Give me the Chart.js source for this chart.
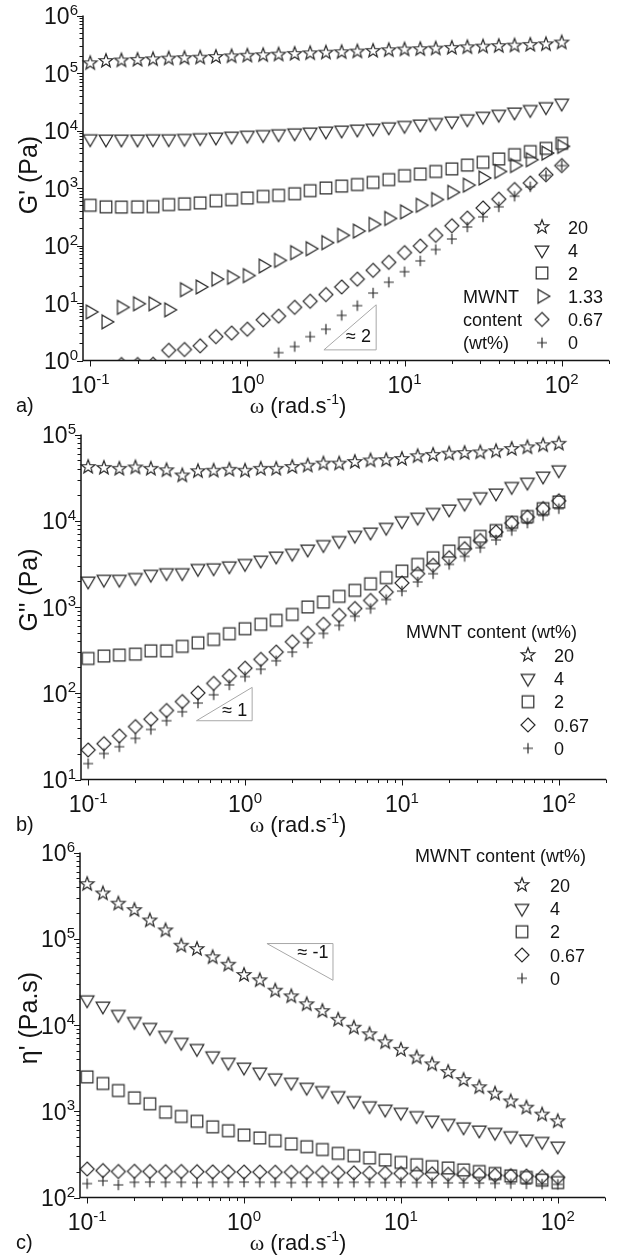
<!DOCTYPE html>
<html>
<head>
<meta charset="utf-8">
<script src="https://cdn.jsdelivr.net/npm/chart.js@4.4.1/dist/chart.umd.min.js"></script>
<style>
  html, body { margin: 0; padding: 0; background: #fff; }
  canvas { display: block; }
</style>
</head>
<body>
<canvas id="panelA" width="627" height="419"></canvas>
<canvas id="panelB" width="627" height="418"></canvas>
<canvas id="panelC" width="627" height="419"></canvas>
<script>
'use strict';

// angular frequency, rad/s (10 points per decade)
const omega = [0.1, 0.126, 0.158, 0.2, 0.251, 0.316, 0.398, 0.501, 0.631, 0.794,
  1, 1.26, 1.58, 2, 2.51, 3.16, 3.98, 5.01, 6.31, 7.94,
  10, 12.6, 15.8, 20, 25.1, 31.6, 39.8, 50.1, 63.1, 79.4, 100];

const contentA = ['20', '4', '2', '1.33', '0.67', '0'];
const contentBC = ['20', '4', '2', '0.67', '0'];
const tickExpX = ['-1', '0', '1', '2'];

// a) storage modulus G' (Pa)
const gp20 = [1.48e5, 1.62e5, 1.65e5, 1.69e5, 1.73e5, 1.78e5, 1.81e5, 1.85e5, 1.9e5, 1.95e5,
  2.0e5, 2.04e5, 2.09e5, 2.15e5, 2.2e5, 2.26e5, 2.3e5, 2.36e5, 2.42e5, 2.49e5,
  2.56e5, 2.6e5, 2.66e5, 2.73e5, 2.8e5, 2.88e5, 2.94e5, 3.0e5, 3.08e5, 3.16e5, 3.39e5];
const gp4 = [7.2e3, 7.1e3, 7.1e3, 7.1e3, 7.2e3, 7.2e3, 7.3e3, 7.5e3, 7.7e3, 8.0e3,
  8.3e3, 8.5e3, 8.8e3, 9.1e3, 9.4e3, 9.8e3, 1.02e4, 1.06e4, 1.1e4, 1.16e4,
  1.23e4, 1.3e4, 1.38e4, 1.47e4, 1.6e4, 1.77e4, 1.92e4, 2.1e4, 2.32e4, 2.6e4, 3.0e4];
const gp2 = [500, 470, 465, 470, 475, 515, 530, 550, 600, 625,
  670, 715, 745, 795, 900, 1000, 1080, 1150, 1250, 1400,
  1640, 1750, 1940, 2150, 2500, 2800, 3200, 3800, 4300, 4900, 6000];
const gp133 = [7.0, 4.7, 8.4, 9.7, 9.7, 7.6, 17, 19, 26, 28,
  30, 44, 55, 75, 88, 112, 150, 178, 233, 295,
  385, 500, 630, 840, 1120, 1490, 1940, 2460, 3100, 4050, 5300];
const gp067 = [null, null, 0.85, 0.85, 0.86, 1.5, 1.55, 1.8, 2.6, 3.0,
  3.5, 5.1, 5.9, 8.4, 10.7, 14, 19, 26, 37, 51,
  75, 98, 150, 220, 300, 450, 640, 940, 1220, 1700, 2450];
const gp0 = [null, null, null, null, null, null, null, null, null, null,
  null, null, 1.37, 1.75, 2.6, 3.5, 6.1, 9.0, 14.9, 23,
  35, 54, 85, 130, 210, 315, 470, 720, 1050, 1650, 2450];

// b) loss modulus G'' (Pa)
const gpp20 = [4.2e4, 4.1e4, 4.0e4, 4.15e4, 4.0e4, 3.85e4, 3.35e4, 3.75e4, 3.8e4, 3.9e4,
  3.8e4, 4.0e4, 4.0e4, 4.2e4, 4.35e4, 4.6e4, 4.6e4, 4.8e4, 5.0e4, 5.05e4,
  5.2e4, 5.6e4, 5.8e4, 6.0e4, 6.1e4, 6.2e4, 6.4e4, 6.8e4, 7.1e4, 7.5e4, 7.8e4];
const gpp4 = [2.0e3, 2.1e3, 2.1e3, 2.2e3, 2.4e3, 2.5e3, 2.5e3, 2.8e3, 2.85e3, 3.0e3,
  3.2e3, 3.5e3, 3.9e3, 4.2e3, 4.7e3, 5.3e3, 5.9e3, 6.8e3, 7.4e3, 8.4e3,
  1.0e4, 1.1e4, 1.25e4, 1.37e4, 1.6e4, 1.9e4, 2.1e4, 2.5e4, 2.8e4, 3.3e4, 3.9e4];
const gpp2 = [253, 270, 277, 284, 310, 310, 350, 385, 420, 490,
  560, 630, 700, 820, 1000, 1140, 1330, 1560, 1860, 2190,
  2610, 3120, 3720, 4450, 5500, 6600, 7700, 9600, 1.12e4, 1.38e4, 1.65e4];
const gpp067 = [22, 26, 32, 41, 50, 63, 80, 101, 130, 158,
  195, 247, 300, 395, 495, 630, 800, 960, 1190, 1490,
  1900, 2430, 3040, 3720, 4740, 5900, 7400, 9400, 1.1e4, 1.38e4, 1.7e4];
const gpp0 = [15.3, 20, 24, 30, 38, 48, 61, 77, 96, 125,
  156, 190, 238, 300, 385, 494, 612, 780, 960, 1220,
  1530, 1950, 2430, 3120, 3860, 4870, 6000, 7700, 9400, 1.15e4, 1.38e4];

// c) dynamic viscosity eta' (Pa.s)
const eta20 = [4.3e5, 3.35e5, 2.55e5, 2.15e5, 1.63e5, 1.25e5, 8.3e4, 7.6e4, 6.1e4, 5.0e4,
  3.8e4, 3.3e4, 2.5e4, 2.15e4, 1.74e4, 1.45e4, 1.15e4, 9.3e3, 7.8e3, 6.3e3,
  5.15e3, 4.2e3, 3.5e3, 2.85e3, 2.3e3, 1.9e3, 1.6e3, 1.3e3, 1.1e3, 915, 765];
const eta4 = [1.96e4, 1.66e4, 1.33e4, 1.1e4, 9.4e3, 7.6e3, 6.3e3, 5.35e3, 4.4e3, 3.7e3,
  3.25e3, 2.85e3, 2.44e3, 2.17e3, 1.9e3, 1.74e3, 1.52e3, 1.33e3, 1.16e3, 1.06e3,
  975, 890, 790, 725, 660, 607, 570, 520, 477, 448, 395];
const eta2 = [2500, 2100, 1740, 1430, 1220, 975, 870, 765, 660, 595,
  530, 490, 455, 418, 388, 360, 325, 305, 288, 272,
  255, 240, 228, 220, 209, 200, 190, 178, 171, 159, 149];
const eta067 = [214, 205, 200, 201, 200, 199, 200, 199, 198, 198,
  197, 197, 196, 196, 195, 194, 194, 193, 192, 191,
  190, 189, 188, 186, 185, 183, 181, 179, 177, 174, 171];
const eta0 = [145, 156, 140, 150, 151, 150, 150, 149, 150, 150,
  151, 150, 150, 149, 150, 150, 149, 150, 150, 149,
  150, 149, 149, 148, 148, 147, 146, 145, 144, 143, 142];

const SANS = '"Liberation Sans", Arial, Helvetica, sans-serif';
const SERIF = '"Liberation Serif", "Times New Roman", serif';
const INK = '#141414';
const MARK = '#2b2b2b';

// open marker glyphs used as Chart.js point styles
function makeMarker(kind) {
  const c = document.createElement('canvas');
  c.width = 20;
  c.height = 20;
  const g = c.getContext('2d');
  g.strokeStyle = MARK;
  g.lineWidth = 1.2;
  g.lineJoin = 'miter';
  g.translate(10, 10);
  g.beginPath();
  if (kind === 'star') {
    for (let i = 0; i < 10; i++) {
      const r = i % 2 === 0 ? 7.2 : 3.0;
      const a = -Math.PI / 2 + i * Math.PI / 5;
      g.lineTo(r * Math.cos(a), r * Math.sin(a));
    }
    g.closePath();
  } else if (kind === 'triDown' || kind === 'triRight') {
    const base = kind === 'triDown' ? Math.PI / 2 : 0;
    for (let i = 0; i < 3; i++) {
      const a = base + i * 2 * Math.PI / 3;
      g.lineTo(7.9 * Math.cos(a), 7.9 * Math.sin(a));
    }
    g.closePath();
  } else if (kind === 'square') {
    g.rect(-5.8, -5.8, 11.6, 11.6);
  } else if (kind === 'diamond') {
    g.moveTo(0, -7);
    g.lineTo(7, 0);
    g.lineTo(0, 7);
    g.lineTo(-7, 0);
    g.closePath();
  } else {
    g.moveTo(-5, 0);
    g.lineTo(5, 0);
    g.moveTo(0, -5.3);
    g.lineTo(0, 5.3);
  }
  g.stroke();
  return c;
}

const markers = {
  star: makeMarker('star'),
  triDown: makeMarker('triDown'),
  square: makeMarker('square'),
  triRight: makeMarker('triRight'),
  diamond: makeMarker('diamond'),
  plus: makeMarker('plus')
};

function decadeTicks(min, max) {
  const out = [];
  for (let n = Math.floor(Math.log10(min)); n <= Math.ceil(Math.log10(max)); n++) {
    for (let k = 1; k <= 9; k++) {
      const v = Number((k * Math.pow(10, n)).toPrecision(6));
      if (v > min * 1.001 && v <= max * 1.001) out.push({ v, major: k === 1, exp: n });
      else if (k === 1 && Math.abs(v - min) < min * 0.001) out.push({ v, major: true, exp: n });
    }
  }
  return out;
}

// "10" with a raised exponent
function drawPow(ctx, exp, x, y, align) {
  ctx.font = `23px ${SANS}`;
  const wb = ctx.measureText('10').width;
  ctx.font = `15px ${SANS}`;
  const ws = ctx.measureText(exp).width;
  const left = align === 'center' ? x - (wb + ws) / 2 : x - wb - ws;
  ctx.textAlign = 'left';
  ctx.textBaseline = 'alphabetic';
  ctx.font = `23px ${SANS}`;
  ctx.fillText('10', left, y);
  ctx.font = `15px ${SANS}`;
  ctx.fillText(exp, left + wb, y - 9.5);
}

const originStyle = {
  id: 'originStyle',
  afterDraw(chart, args, opts) {
    const { ctx, chartArea: a } = chart;
    const xs = chart.scales.x;
    const ys = chart.scales.y;
    ctx.save();

    // axes and ticks
    ctx.strokeStyle = INK;
    ctx.lineWidth = 1.5;
    ctx.beginPath();
    ctx.moveTo(a.left, a.top);
    ctx.lineTo(a.left, a.bottom);
    ctx.lineTo(a.right, a.bottom);
    ctx.stroke();

    ctx.lineWidth = 1;
    ctx.beginPath();
    decadeTicks(xs.min, xs.max).forEach(t => {
      const px = Math.round(xs.getPixelForValue(t.v)) + 0.5;
      ctx.moveTo(px, a.bottom);
      ctx.lineTo(px, a.bottom + (t.major ? 6 : 3.5));
    });
    decadeTicks(ys.min, ys.max).forEach(t => {
      const py = Math.round(ys.getPixelForValue(t.v)) + 0.5;
      ctx.moveTo(a.left, py);
      ctx.lineTo(a.left - (t.major ? 6 : 3.5), py);
    });
    ctx.stroke();

    // tick labels
    ctx.fillStyle = INK;
    tickExpX.forEach(e => {
      drawPow(ctx, e, xs.getPixelForValue(Math.pow(10, Number(e))), 393, 'center');
    });
    decadeTicks(ys.min, ys.max).filter(t => t.major).forEach(t => {
      drawPow(ctx, String(t.exp), a.left - 5, ys.getPixelForValue(t.v) + 8.5, 'right');
    });

    // x title: omega (rad.s^-1)
    ctx.textAlign = 'left';
    ctx.textBaseline = 'alphabetic';
    const parts = [
      { t: 'ω', f: `22px ${SERIF}`, dy: 0 },
      { t: ' (rad.s', f: `22px ${SANS}`, dy: 0 },
      { t: '-1', f: `14px ${SANS}`, dy: -9 },
      { t: ')', f: `22px ${SANS}`, dy: 0 }
    ];
    let w = 0;
    parts.forEach(p => { ctx.font = p.f; p.w = ctx.measureText(p.t).width; w += p.w; });
    let cx = 298 - w / 2;
    parts.forEach(p => { ctx.font = p.f; ctx.fillText(p.t, cx, 413 + p.dy); cx += p.w; });

    // panel letter
    ctx.font = `20px ${SANS}`;
    ctx.fillText(opts.letter, 16, 412);

    // y title
    ctx.save();
    ctx.translate(30, opts.yTitleY);
    ctx.rotate(-Math.PI / 2);
    ctx.textAlign = 'center';
    ctx.textBaseline = 'middle';
    ctx.font = `25px ${SANS}`;
    ctx.fillText(opts.yTitle, 0, 0);
    ctx.restore();

    // slope triangle
    const s = opts.slope;
    const p = s.pts.map(q => [xs.getPixelForValue(q[0]), ys.getPixelForValue(q[1])]);
    ctx.strokeStyle = '#a8a8a8';
    ctx.lineWidth = 1;
    ctx.beginPath();
    ctx.moveTo(p[0][0], p[0][1]);
    ctx.lineTo(p[1][0], p[1][1]);
    ctx.lineTo(p[2][0], p[2][1]);
    ctx.closePath();
    ctx.stroke();
    ctx.fillStyle = INK;
    ctx.font = `18px ${SANS}`;
    ctx.textAlign = 'center';
    ctx.textBaseline = 'middle';
    ctx.fillText(s.text, xs.getPixelForValue(s.at[0]), ys.getPixelForValue(s.at[1]));

    // legend
    const L = opts.legend;
    ctx.font = `18px ${SANS}`;
    ctx.textBaseline = 'alphabetic';
    ctx.textAlign = 'left';
    chart.data.datasets.forEach((ds, i) => {
      const ry = L.rows[i];
      ctx.drawImage(ds.pointStyle, L.symX - 10, ry - 10);
      ctx.fillText(ds.label, L.textX, ry + 6.5);
    });
    if (L.title) {
      ctx.textAlign = 'right';
      ctx.fillText(L.title, L.titleRight, L.titleY + 6.5);
    }
    if (L.side) {
      L.side.forEach((t, i) => ctx.fillText(t, L.sideX, L.rows[L.sideFrom + i] + 6.5));
    }
    ctx.restore();
  }
};

function buildChart(id, cfg) {
  const shapes = cfg.shapes;
  const datasets = cfg.series.map((vals, i) => ({
    label: cfg.labels[i],
    data: omega.map((x, j) => ({ x, y: vals[j] })).filter(d => d.y !== null),
    pointStyle: markers[shapes[i]],
    pointRadius: 7,
    showLine: false,
    clip: { left: 12, top: 12, right: 12, bottom: 0 }
  }));
  return new Chart(document.getElementById(id).getContext('2d'), {
    type: 'scatter',
    data: { datasets },
    options: {
      responsive: false,
      animation: false,
      events: [],
      layout: { padding: { left: cfg.left, right: 627 - cfg.right, top: 15.5, bottom: cfg.height - 360.5 } },
      scales: {
        x: { type: 'logarithmic', min: 0.09, max: 200, display: false },
        y: { type: 'logarithmic', min: cfg.yMin, max: cfg.yMax, display: false }
      },
      plugins: {
        legend: { display: false },
        tooltip: { enabled: false },
        originStyle: cfg.deco
      }
    },
    plugins: [originStyle]
  });
}

buildChart('panelA', {
  height: 419, left: 83, right: 609, yMin: 1, yMax: 1e6,
  series: [gp20, gp4, gp2, gp133, gp067, gp0],
  labels: contentA,
  shapes: ['star', 'triDown', 'square', 'triRight', 'diamond', 'plus'],
  deco: {
    letter: 'a)', yTitle: "G' (Pa)", yTitleY: 175,
    slope: { pts: [[3.07, 1.53], [6.6, 9.3], [6.6, 1.53]], text: '≈ 2', at: [5.1, 2.6] },
    legend: {
      symX: 542, textX: 568, rows: [227, 250, 273, 296.3, 319.5, 342.7],
      side: ['MWNT', 'content', '(wt%)'], sideX: 463, sideFrom: 3
    }
  }
});

buildChart('panelB', {
  height: 418, left: 81, right: 606, yMin: 10, yMax: 1e5,
  series: [gpp20, gpp4, gpp2, gpp067, gpp0],
  labels: contentBC,
  shapes: ['star', 'triDown', 'square', 'diamond', 'plus'],
  deco: {
    letter: 'b)', yTitle: "G'' (Pa)", yTitleY: 171,
    slope: { pts: [[0.49, 48], [1.11, 117], [1.11, 48]], text: '≈ 1', at: [0.86, 63] },
    legend: {
      symX: 528, textX: 554, rows: [236, 259.3, 282.7, 306, 329.3],
      title: 'MWNT content (wt%)', titleRight: 577, titleY: 212.7
    }
  }
});

buildChart('panelC', {
  height: 419, left: 80, right: 605, yMin: 100, yMax: 1e6,
  series: [eta20, eta4, eta2, eta067, eta0],
  labels: contentBC,
  shapes: ['star', 'triDown', 'square', 'diamond', 'plus'],
  deco: {
    letter: 'c)', yTitle: "η' (Pa.s)", yTitleY: 181,
    slope: { pts: [[1.4, 8.8e4], [3.69, 8.8e4], [3.69, 3.3e4]], text: '≈ -1', at: [2.75, 6.8e4] },
    legend: {
      symX: 522, textX: 550, rows: [48, 71.3, 94.7, 118, 141.3],
      title: 'MWNT content (wt%)', titleRight: 586, titleY: 18
    }
  }
});
</script>
</body>
</html>
